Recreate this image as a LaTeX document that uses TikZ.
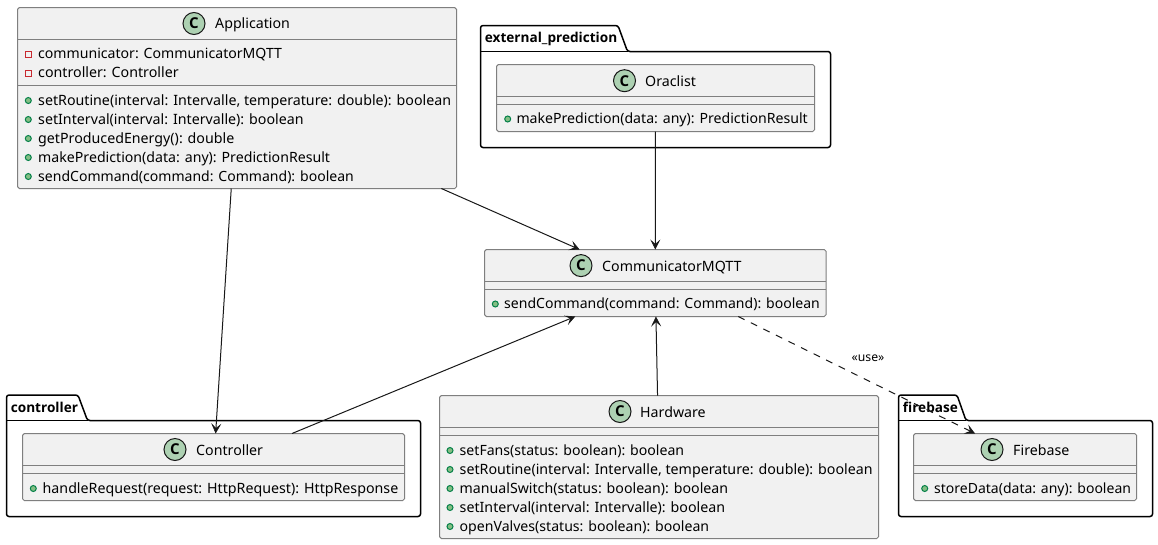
\documentclass[tikz,border=0pt]{standalone}
\usepackage{fontspec}
\setmainfont{Noto Sans}
\newfontfamily\heavysans{Open Sans}
\usetikzlibrary{arrows.meta}
\definecolor{classfill}{HTML}{F1F1F1}
\definecolor{classline}{HTML}{7F7F7F}
\definecolor{ink}{HTML}{181818}
\definecolor{iconfill}{HTML}{ADD1B2}
\definecolor{pubfill}{HTML}{84BE84}
\definecolor{publine}{HTML}{038048}
\definecolor{privline}{HTML}{C82930}
\tikzset{
  classbox/.style={draw=classline,fill=classfill,line width=1pt,rounded corners=1.8pt,inner sep=0pt,outer sep=0pt},
  classrule/.style={draw=classline,line width=1pt},
  pkg/.style={draw=black,line width=1.5pt,rounded corners=2.5pt,fill=white},
  classicon/.style={circle,draw=ink,fill=iconfill,line width=1pt,minimum size=22pt,inner sep=0pt,font=\heavysans\fontsize{15}{15}\selectfont\bfseries,text=black},
  title/.style={anchor=base west,inner sep=0pt,font=\fontsize{14.2}{14.2}\selectfont,text=black},
  member/.style={anchor=base west,inner sep=0pt,font=\fontsize{14.22}{14.22}\selectfont,text=black},
  sized/.style={font=\fontsize{#1}{#1}\selectfont},
  pkglabel/.style={anchor=base west,inner sep=0pt,font=\heavysans\fontsize{13.6}{13.6}\selectfont\bfseries,text=black},
  uselabel/.style={anchor=base west,inner sep=0pt,font=\fontsize{12.2}{12.2}\selectfont,text=black},
  link/.style={draw=ink,line width=1pt,-{Stealth[length=10pt,width=10pt,inset=4.5pt,line width=0.6pt]}},
  backlink/.style={draw=ink,line width=1pt,{Stealth[length=10pt,width=10pt,inset=4.5pt,line width=0.6pt]}-},
  dashlink/.style={link,dash pattern=on 7pt off 7pt},
}
% name, left, top, right, bottom, rule1, rule2
\newcommand{\umlclass}[7]{%
  \pgfmathsetmacro{\cw}{#4-#2}\pgfmathsetmacro{\ch}{#5-#3}%
  \pgfmathsetmacro{\cx}{(#2+#4)/2}\pgfmathsetmacro{\cy}{(#3+#5)/2}%
  \node[classbox,minimum width=\cw pt,minimum height=\ch pt] (#1) at (\cx,\cy) {};
  \draw[classrule] (#2,#6) -- (#4,#6);
  \draw[classrule] (#2,#7) -- (#4,#7);
}
% left, tabtop, tab right top, tab right bottom, body top, right, bottom
\newcommand{\umlpkg}[7]{%
  \draw[pkg] (#1,#5) -- (#1,#2) -- (#3,#2) -- (#4,#5) -- (#6,#5) -- (#6,#7) -- (#1,#7) -- cycle;
  \draw[draw=black,line width=1.5pt] (#1,#5) -- (#4,#5);
}
\newcommand{\pubicon}[2]{\draw[draw=publine,fill=pubfill,line width=1pt] (#1,#2) circle[radius=3pt];}
\newcommand{\privicon}[2]{\draw[draw=privline,line width=1pt] (#1-3,#2-3) rectangle (#1+3,#2+3);}
\begin{document}
\begin{tikzpicture}[x=1pt,y=-1pt]
\useasboundingbox (0,0) rectangle (1158,544);
\fill[white] (0,0) rectangle (1158,544);

% packages
\umlpkg{480.5}{25.5}{618}{627.5}{51.5}{830.5}{147.5}
\node[pkglabel] (pkgext) at (484.7,42.7) {external\_prediction};
\umlpkg{6.5}{395}{78}{87.5}{420.5}{420.5}{516.5}
\node[pkglabel] (pkgctl) at (10.7,412.7) {controller};
\umlpkg{898.5}{395}{957}{966}{420.5}{1152.5}{516.5}
\node[pkglabel] (pkgfire) at (902.7,412.7) {firebase};

% Application
\umlclass{app}{17.5}{7.5}{456.5}{188.5}{39.5}{85.5}
\node[classicon] (appicon) at (194,23.5) {C};
\node[title] (apptitle) at (215,28) {Application};
\privicon{28.3}{54.7}
\node[member,sized=14.1] (appm1) at (38,58) {communicator: CommunicatorMQTT};
\privicon{28.3}{73.7}
\node[member] (appm2) at (38,77) {controller: Controller};
\pubicon{28.3}{100.5}
\node[member] (appm3) at (38,105) {setRoutine(interval: Intervalle, temperature: double): boolean};
\pubicon{28.3}{119.5}
\node[member] (appm4) at (38,124) {setInterval(interval: Intervalle): boolean};
\pubicon{28.3}{138.5}
\node[member] (appm5) at (38,143) {getProducedEnergy(): double};
\pubicon{28.3}{157.5}
\node[member,sized=14.15] (appm6) at (38,162) {makePrediction(data: any): PredictionResult};
\pubicon{28.3}{176.5}
\node[member,sized=14.04] (appm7) at (38,181) {sendCommand(command: Command): boolean};

% Oracle
\umlclass{ora}{496.5}{64.5}{814.5}{131.5}{96.5}{104.5}
\node[classicon] (oraicon) at (624.5,80.7) {C};
\node[title] (oratitle) at (645,86) {Oraclist};
\pubicon{507.7}{119}
\node[member,sized=14.12] (oram1) at (516.3,123.5) {makePrediction(data: any): PredictionResult};

% Communicator
\umlclass{com}{484.5}{249.5}{826}{316.5}{281.5}{289.5}
\node[classicon] (comicon) at (581,265.6) {C};
\node[title] (comtitle) at (602,271) {CommunicatorMQTT};
\pubicon{495.3}{304}
\node[member,sized=14.04] (comm1) at (504,308.5) {sendCommand(command: Command): boolean};

% Controller
\umlclass{ctl}{22.5}{433.5}{404.5}{500.5}{465.5}{473.5}
\node[classicon] (ctlicon) at (175,449.5) {C};
\node[title] (ctltitle) at (196,455) {Controller};
\pubicon{33.3}{488.5}
\node[member] (ctlm1) at (42.5,493.5) {handleRequest(request: HttpRequest): HttpResponse};

% Hardware
\umlclass{hw}{439.5}{395.5}{878.5}{538.5}{427.5}{435.5}
\node[classicon] (hwicon) at (620,411.5) {C};
\node[title] (hwtitle) at (640,417) {Hardware};
\pubicon{450}{450.5}
\node[member,sized=14.1] (hwm1) at (459.5,455) {setFans(status: boolean): boolean};
\pubicon{450}{469.5}
\node[member] (hwm2) at (459.5,474) {setRoutine(interval: Intervalle, temperature: double): boolean};
\pubicon{450}{488.5}
\node[member,sized=14.17] (hwm3) at (459.5,493) {manualSwitch(status: boolean): boolean};
\pubicon{450}{507.5}
\node[member] (hwm4) at (459.5,512) {setInterval(interval: Intervalle): boolean};
\pubicon{450}{526.5}
\node[member,sized=14.1] (hwm5) at (459.5,531) {openValves(status: boolean): boolean};

% Firebase
\umlclass{fire}{913.5}{433.5}{1136.5}{500.5}{465.5}{473.5}
\node[classicon] (fireicon) at (992,449.5) {C};
\node[title] (firetitle) at (1013,455) {Firebase};
\pubicon{924.7}{488.5}
\node[member,sized=14.0] (firem1) at (934,493.5) {storeData(data: any): boolean};

% connectors
\draw[link] (app) -- (com);
\draw[link] (app) -- (ctl);
\draw[link] (ora) -- (com);
\draw[backlink] ([xshift=-80pt]com.south) -- ([xshift=78.5pt]ctl.north);
\draw[backlink] (com) -- (hw);
\draw[dashlink] ([xshift=83pt]com.south) -- ([xshift=-50pt]fire.north);
\node[uselabel] (uselbl) at (851.5,361) {«use»};
\end{tikzpicture}
\end{document}
